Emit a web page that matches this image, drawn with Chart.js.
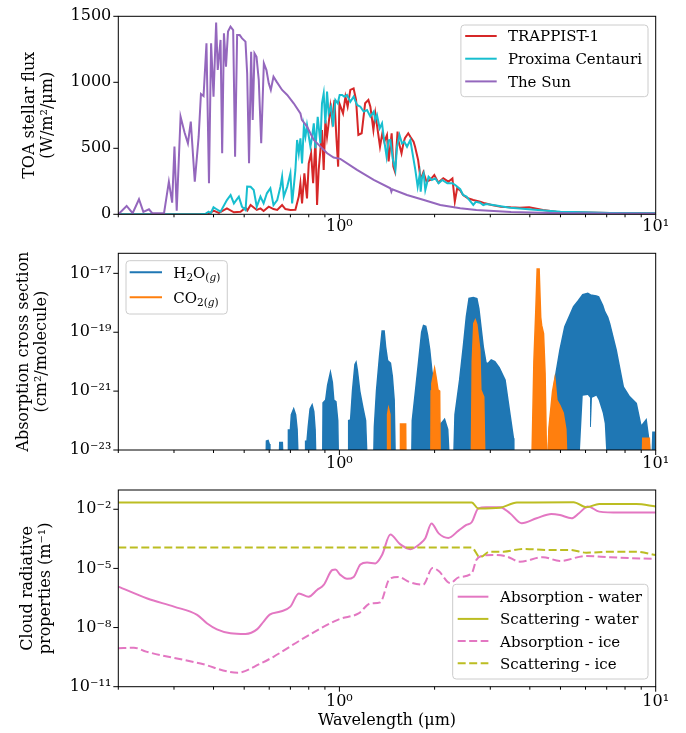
<!DOCTYPE html>
<html><head><meta charset="utf-8">
<script src="https://cdn.jsdelivr.net/npm/chart.js@4.4.1/dist/chart.umd.min.js"></script>
<style>
html,body{margin:0;padding:0;background:#fff;}
#wrap{position:relative;width:686px;height:733px;overflow:hidden;}
canvas{position:absolute;left:0;}
</style></head><body>
<div id="wrap">
<canvas id="c1" width="686" height="240" style="top:0px"></canvas>
<canvas id="c2" width="686" height="240" style="top:240px"></canvas>
<canvas id="c3" width="686" height="253" style="top:480px"></canvas>
</div>
<script>
// ---------------- DATA ----------------
const BELOW = 1e-24; // value below the plotted range (no absorption visible)

// Panel 1: top-of-atmosphere stellar flux (W/m2/um)
const trappistWl = [0.2,0.364,0.386,0.400,0.416,0.441,0.464,0.487,0.505,0.512,0.524,0.548,0.563,0.576,0.598,0.619,0.636,0.659,0.675,0.700,0.726,0.744,0.753,0.762,0.775,0.790,0.800,0.814,0.826,0.840,0.850,0.860,0.871,0.881,0.892,0.903,0.914,0.925,0.937,0.948,0.965,0.978,0.991,1.0,1.027,1.045,1.062,1.083,1.109,1.129,1.148,1.176,1.206,1.235,1.253,1.281,1.299,1.344,1.367,1.387,1.414,1.431,1.463,1.481,1.499,1.527,1.535,1.572,1.594,1.611,1.651,1.676,1.716,1.734,1.774,1.807,1.843,1.886,1.938,1.996,2.055,2.130,2.210,2.277,2.317,2.357,2.410,2.460,2.549,2.650,2.785,2.885,3.03,3.24,3.48,3.72,3.98,4.40,4.85,5.62,7.16,10];
const trappistFlux = [0,0,3,28,10,45,15,20,50,30,70,33,45,25,58,40,33,70,40,33,35,134,235,83,310,121,386,462,235,563,70,336,487,639,336,714,588,689,815,714,866,588,361,841,765,891,815,942,954,866,601,614,841,866,815,639,765,512,614,550,601,400,614,361,323,626,563,462,538,576,614,588,550,513,411,260,320,247,260,298,240,273,247,272,96,197,180,146,121,109,96,83,71,58,53,50,53,33,20,15,10,8];

const proximaWl = [0.2,0.315,0.364,0.378,0.386,0.392,0.400,0.408,0.421,0.441,0.453,0.464,0.481,0.492,0.505,0.511,0.524,0.536,0.548,0.563,0.576,0.590,0.605,0.619,0.636,0.651,0.659,0.667,0.684,0.700,0.709,0.726,0.735,0.744,0.753,0.762,0.772,0.781,0.790,0.810,0.820,0.830,0.840,0.854,0.871,0.881,0.892,0.903,0.914,0.925,0.941,0.955,0.971,0.988,1.002,1.020,1.037,1.057,1.083,1.109,1.137,1.165,1.193,1.223,1.253,1.284,1.299,1.315,1.341,1.364,1.380,1.410,1.430,1.449,1.477,1.503,1.521,1.549,1.577,1.604,1.636,1.676,1.710,1.738,1.768,1.794,1.807,1.825,1.847,1.869,1.914,1.960,2.010,2.060,2.113,2.194,2.277,2.324,2.410,2.460,2.523,2.592,2.650,2.700,2.785,2.850,2.912,3.06,3.31,3.467,3.64,3.96,4.44,5.0,5.93,7.17,10];
const proximaFlux = [0,0,3,5,20,8,53,40,20,108,146,83,134,58,32,210,209,184,58,134,83,159,197,70,108,209,285,134,209,310,83,336,563,462,575,386,664,588,676,512,588,689,500,739,538,841,916,689,929,765,815,664,866,841,904,904,891,904,853,891,828,815,778,790,740,778,714,752,651,689,588,437,560,563,411,336,512,601,538,550,512,563,437,336,209,300,172,280,310,184,285,260,272,235,260,235,235,222,190,146,134,100,71,95,88,70,78,71,58,50,45,38,28,20,15,10,8];

const sunWl = [0.2,0.2125,0.222,0.2325,0.240,0.250,0.256,0.279,0.289,0.296,0.301,0.306,0.3147,0.324,0.332,0.339,0.349,0.359,0.365,0.372,0.380,0.387,0.393,0.400,0.4077,0.4125,0.421,0.426,0.4315,0.438,0.4445,0.4527,0.4615,0.468,0.475,0.484,0.4925,0.5048,0.511,0.518,0.526,0.532,0.539,0.547,0.556,0.566,0.577,0.588,0.598,0.607,0.619,0.633,0.659,0.684,0.717,0.753,0.761,0.790,0.830,0.871,0.915,0.959,1.007,1.137,1.284,1.449,1.46,1.47,1.636,1.85,2.084,2.41,2.71,3.49,4.98,10];
const sunFlux = [0,63,8,114,18,38,8,8,247,88,513,28,740,619,538,702,247,588,912,896,1295,235,1295,891,1452,1093,1321,462,1371,1119,1384,1422,1396,437,1358,1358,1333,1308,1068,386,1232,715,1220,1194,1018,538,1144,1093,992,942,1043,1005,942,904,841,765,715,664,563,513,462,430,420,336,260,197,171,190,146,108,70,45,33,17,8,5];

// Panel 2: absorption cross sections (cm2/molecule), envelope of the line spectra
const h2oWl = [0.2,0.585,0.588,0.595,0.600,0.603,0.643,0.648,0.660,0.667,
  0.688,0.690,0.700,0.705,0.717,0.727,0.735,0.744,0.780,0.782,
  0.790,0.797,0.808,0.820,0.830,0.838,0.845,0.885,0.888,0.905,
  0.918,0.937,0.950,0.960,0.975,0.988,0.995,1.065,1.070,1.085,
  1.100,1.120,1.129,1.140,1.160,1.188,1.210,1.229,1.280,1.290,
  1.310,1.340,1.365,1.385,1.400,1.420,1.450,1.470,1.490,1.505,
  1.690,1.700,1.740,1.780,1.820,1.845,1.875,1.900,1.930,1.960,
  2.000,2.050,2.080,2.100,2.150,2.200,2.240,2.290,2.320,2.400,
  2.470,2.520,2.570,2.650,2.720,2.760,2.850,2.910,2.960,3.020,
  3.100,3.200,3.340,3.470,3.550,3.560,4.550,4.600,4.800,4.980,
  5.160,5.500,5.700,5.880,6.100,6.200,6.240,6.290,6.490,6.600,
  6.800,6.900,7.050,7.150,7.500,7.900,8.260,8.680,8.990,9.330,
  9.550,9.690,9.800,9.900,10];
const h2oMax = [BELOW,BELOW,2.0e-23,2.1e-23,1.6e-23,BELOW,BELOW,1.8e-23,1.8e-23,BELOW,
  BELOW,4.8e-23,4.8e-23,1.6e-22,2.5e-22,1.6e-22,5e-23,BELOW,BELOW,2e-23,
  2e-23,6e-23,2.5e-22,3.4e-22,2e-22,5e-23,BELOW,BELOW,4e-22,5e-22,
  1.6e-21,4.3e-21,2e-21,5e-22,4.4e-22,1e-22,BELOW,BELOW,1e-22,1.05e-22,
  1e-21,8e-21,9.5e-21,5e-21,1e-21,2.6e-22,1e-22,BELOW,BELOW,6e-23,
  1e-21,1.6e-20,1.1e-19,1.1e-19,3.2e-20,1.1e-20,9e-21,3.2e-21,5e-22,BELOW,
  BELOW,1e-22,1e-21,1e-20,1e-19,1.7e-19,1.6e-19,8e-20,2.5e-20,5e-21,
  1.26e-21,3.2e-22,6e-23,8e-23,1.1e-22,5e-23,BELOW,BELOW,1.6e-22,2.4e-21,
  4e-20,3.4e-19,1.4e-18,1.5e-18,1.4e-18,6.3e-19,3.2e-20,8.7e-21,9e-21,1.15e-20,
  1e-20,6.3e-21,2.4e-21,1.35e-22,2.5e-23,BELOW,BELOW,4e-23,2.4e-21,2.5e-20,
  1.55e-19,7.4e-19,1.2e-18,1.9e-18,2.1e-18,1.9e-18,1.8e-18,1.8e-18,1.7e-18,1.6e-18,
  8e-19,5e-19,3.2e-19,2e-19,2.5e-20,1.4e-21,6.5e-22,3.8e-22,6.3e-23,1.05e-22,
  1.6e-23,BELOW,4e-23,4e-23,BELOW];
// where the H2O lines never drop to the bottom of the axis (lower envelope)
const h2oArchWl  = [5.88, 6.1, 6.2, 6.24, 6.29, 6.49, 6.6, 6.8, 6.9];
const h2oArchMin = [7e-22, 7.4e-22, 6e-22, 6e-23, 6e-22, 7e-22, 5e-22, 1.8e-22, 8e-23];

const co2Wl = [0.2,1.415,1.42,1.43,1.445,1.45,1.555,1.56,1.62,1.625,
  1.945,1.95,1.96,2.00,2.02,2.05,2.075,2.085,2.61,2.63,
  2.66,2.69,2.72,2.78,2.80,2.86,2.89,4.05,4.12,4.18,
  4.22,4.28,4.33,4.36,4.42,4.47,4.53,4.60,4.72,4.80,
  4.87,4.98,5.10,5.20,5.26,9.05,9.10,9.55,9.65,10];
const co2Max = [BELOW,BELOW,1.6e-22,2.6e-22,1.6e-22,BELOW,BELOW,7.6e-23,7.6e-23,BELOW,
  BELOW,1e-21,1.8e-21,5.9e-21,3.2e-21,1.1e-21,1e-21,BELOW,BELOW,1e-20,
  2e-19,2.6e-19,1.8e-19,2.5e-20,1.1e-21,6.3e-22,BELOW,BELOW,1e-20,6.3e-19,
  1.4e-17,1.4e-17,3.2e-19,1.7e-19,9e-20,4e-21,BELOW,6e-23,1e-21,2.7e-21,
  5e-22,3.2e-22,1.8e-22,5e-23,BELOW,BELOW,2.5e-23,2.5e-23,BELOW,BELOW];

// Panel 3: cloud radiative properties (m^-1)
const absWaterWl = [0.2,0.247,0.30,0.355,0.382,0.41,0.4527,0.505,0.55,0.576,0.602,0.651,0.70,0.744,0.80,0.85,0.892,0.95,0.971,1.007,1.057,1.11,1.165,1.223,1.299,1.364,1.449,1.555,1.676,1.80,1.869,1.955,2.06,2.21,2.38,2.52,2.62,2.75,2.91,3.22,3.46,3.77,4.2,4.68,4.98,5.42,5.72,6.1,6.63,7.7,10];
const absWaterVal = [1.2e-6,3.0e-7,1.15e-7,4.4e-8,1.6e-8,8.1e-9,5.1e-9,4.7e-9,8.3e-9,2.0e-8,4.5e-8,6.5e-8,1.15e-7,5.4e-7,3.7e-7,8.1e-7,1.45e-6,8.3e-6,8.7e-6,4.7e-6,2.95e-6,3.7e-6,1.6e-5,2.0e-5,1.8e-5,4.8e-5,5.2e-4,1.7e-4,9.5e-5,1.8e-4,3.4e-4,1.9e-3,6e-4,3.5e-4,8.3e-4,1.6e-3,2.2e-3,1.1e-2,1.26e-2,1.26e-2,6.3e-3,1.95e-3,3.5e-3,5.8e-3,5.1e-3,3.5e-3,6.3e-3,1.4e-2,7.6e-3,6.8e-3,6.8e-3];
const scatWaterWl = [0.2,2.62,2.75,3.22,3.64,5.5,6.03,6.63,8.68,10];
const scatWaterVal = [2.2e-2,2.2e-2,1.1e-2,1.2e-2,2.2e-2,2.3e-2,1.26e-2,1.85e-2,1.85e-2,1.4e-2];
const absIceWl = [0.2,0.224,0.245,0.364,0.477,0.563,0.619,0.753,0.959,1.007,1.15,1.253,1.347,1.44,1.535,1.67,1.84,1.97,2.06,2.24,2.38,2.62,2.71,2.82,3.06,3.38,3.72,4.4,4.98,6.03,7.16,10];
const absIceVal = [8.9e-10,9.5e-10,6e-10,1.5e-10,5.1e-11,1.5e-10,3.3e-10,2.3e-9,2.0e-8,2.8e-8,5.2e-8,1.66e-7,1.9e-7,2.9e-6,3.7e-6,2.0e-6,1.5e-6,1.05e-5,7.4e-6,1.8e-6,3.5e-6,5.6e-6,2.7e-5,4.3e-5,4.8e-5,4.0e-5,2.2e-5,3.7e-5,2.4e-5,4.3e-5,3.7e-5,3.0e-5];
const scatIceWl = [0.2,2.62,2.78,2.99,3.3,3.82,4.5,5.35,6.03,7.2,8.66,10];
const scatIceVal = [1.15e-4,1.15e-4,3.7e-5,7.1e-5,7.1e-5,9.8e-5,8.7e-5,8.7e-5,6.3e-5,7.1e-5,7.1e-5,4.8e-5];

// Axes / ticks
const xMin = 0.2, xMax = 10;
const xMajorTicks = [1, 10];
const xMajorLabels = ['10\u2070', '10\u00b9'];
const xMinorTicks = [0.2,0.3,0.4,0.5,0.6,0.7,0.8,0.9,2,3,4,5,6,7,8,9];
const fluxTicks = [0, 500, 1000, 1500];
const fluxTickLabels = ['0', '500', '1000', '1500'];
const sigmaTicks = [1e-23, 1e-21, 1e-19, 1e-17];
const sigmaTickLabels = ['10\u207b\u00b2\u00b3', '10\u207b\u00b2\u00b9', '10\u207b\u00b9\u2079', '10\u207b\u00b9\u2077'];
const cloudTicks = [1e-11, 1e-8, 1e-5, 1e-2];
const cloudTickLabels = ['10\u207b\u00b9\u00b9', '10\u207b\u2078', '10\u207b\u2075', '10\u207b\u00b2'];

const starNames = ['TRAPPIST-1', 'Proxima Centauri', 'The Sun'];
const cloudNames = ['Absorption - water', 'Scattering - water', 'Absorption - ice', 'Scattering - ice'];

// ---------------- STYLE / HELPERS ----------------
const FONT = "'DejaVu Serif', 'Liberation Serif', serif";
const TICK_FONT = {family: FONT, size: 16, lineHeight: 1.2};
const W = 686, PLOT_LEFT = 118.3, PLOT_RIGHT = 655.7;
const C = {red:'#d62728', cyan:'#17becf', purple:'#9467bd', blue:'#1f77b4', orange:'#ff7f0e', pink:'#e377c2', olive:'#bcbd22'};
const xTickValues = [...xMinorTicks, ...xMajorTicks].sort((a, b) => a - b);

function pts(xs, ys) { const n = Math.min(xs.length, ys.length); const out = []; for (let i = 0; i < n; i++) out.push({x: xs[i], y: ys[i]}); return out; }

function xAxis(canvasH, plotBottom, pad, title) {
  return {
    type: 'logarithmic', position: 'bottom', min: xMin, max: xMax,
    grid: {display: false, drawTicks: false}, border: {display: false},
    afterBuildTicks: s => { s.ticks = xTickValues.map(v => ({value: v})); },
    afterFit: s => { s.height = canvasH - plotBottom; s.paddingLeft = 0; s.paddingRight = 0; },
    ticks: {autoSkip: false, maxRotation: 0, minRotation: 0, padding: pad, color: '#000', font: TICK_FONT,
      callback: v => { const i = xMajorTicks.indexOf(v); return i >= 0 ? xMajorLabels[i] : ''; }},
    title: title ? {display: true, text: title, color: '#000', font: {family: FONT, size: 16, lineHeight: 1.2}, padding: {top: 0, bottom: 2.5}} : {display: false}
  };
}
function yAxis(type, min, max, tickVals, tickLabels, titleLines, titlePad) {
  return {
    type, min, max, position: 'left',
    grid: {display: false, drawTicks: false}, border: {display: false},
    afterBuildTicks: s => { s.ticks = tickVals.map(v => ({value: v})); },
    afterFit: s => { s.width = PLOT_LEFT; s.paddingTop = 0; s.paddingBottom = 0; },
    ticks: {autoSkip: false, padding: 7, color: '#000', font: TICK_FONT,
      callback: v => { const i = tickVals.indexOf(v); return i >= 0 ? tickLabels[i] : ''; }},
    title: {display: true, text: titleLines, color: '#000', font: {family: FONT, size: 16, lineHeight: 1.125}, padding: {top: titlePad, bottom: 0}}
  };
}

// frame (all four spines) + matplotlib-like major/minor tick marks
const axesFrame = {
  id: 'axesFrame',
  afterDatasetsDraw(chart, args, o) {
    const {ctx, chartArea: a} = chart; const xs = chart.scales.x, ys = chart.scales.y;
    ctx.save(); ctx.strokeStyle = '#000'; ctx.lineWidth = 1; ctx.setLineDash([]);
    ctx.beginPath();
    for (const v of xMinorTicks) { const p = xs.getPixelForValue(v); ctx.moveTo(p, a.bottom); ctx.lineTo(p, a.bottom + 3); }
    for (const v of xMajorTicks) { const p = xs.getPixelForValue(v); ctx.moveTo(p, a.bottom); ctx.lineTo(p, a.bottom + 5); }
    for (const v of o.yTicks) { const p = ys.getPixelForValue(v); ctx.moveTo(a.left, p); ctx.lineTo(a.left - 5, p); }
    ctx.stroke();
    ctx.strokeRect(a.left, a.top, a.right - a.left, a.bottom - a.top);
    ctx.restore();
  }
};

// matplotlib-like legend box drawn inside the axes
function richWidth(ctx, segs, fs) {
  let w = 0;
  for (const s of segs) { ctx.font = (s.it ? 'italic ' : '') + (s.sub ? fs * 0.7 : fs) + 'px ' + FONT; w += ctx.measureText(s.t).width; }
  return w;
}
const boxLegend = {
  id: 'boxLegend',
  afterDraw(chart, args, o) {
    if (!o || !o.entries) return;
    const ctx = chart.ctx, a = chart.chartArea, fs = o.fontSize;
    ctx.save();
    const segsList = o.entries.map(e => Array.isArray(e.text) ? e.text : [{t: e.text}]);
    const tw = Math.max(...segsList.map(s => richWidth(ctx, s, fs)));
    const w = o.textX + tw + o.padRight, h = o.height;
    const x0 = o.hAnchor === 'left' ? a.left + o.inset : a.right - o.inset - w;
    const y0 = o.vAnchor === 'bottom' ? a.bottom - o.insetY - h : a.top + o.insetY;
    ctx.beginPath(); ctx.roundRect(x0, y0, w, h, 3.5);
    ctx.fillStyle = 'rgba(255,255,255,0.8)'; ctx.fill();
    ctx.strokeStyle = '#cccccc'; ctx.lineWidth = 1; ctx.stroke();
    o.entries.forEach((e, i) => {
      const y = y0 + o.firstRow + i * o.rowGap;
      ctx.beginPath(); ctx.strokeStyle = e.color; ctx.lineWidth = 2; ctx.setLineDash(e.dash || []);
      ctx.moveTo(x0 + o.handleX, y); ctx.lineTo(x0 + o.handleX + o.handleLen, y); ctx.stroke();
      ctx.setLineDash([]);
      let x = x0 + o.textX; const base = y + fs * 0.36;
      ctx.fillStyle = '#000'; ctx.textBaseline = 'alphabetic'; ctx.textAlign = 'left';
      for (const s of segsList[i]) {
        const sz = s.sub ? fs * 0.7 : fs;
        ctx.font = (s.it ? 'italic ' : '') + sz + 'px ' + FONT;
        ctx.fillText(s.t, x, s.sub ? base + fs * 0.22 : base);
        x += ctx.measureText(s.t).width;
      }
    });
    ctx.restore();
  }
};
Chart.register(axesFrame, boxLegend);

const common = {responsive: false, maintainAspectRatio: false, animation: false, events: []};
const lineDs = {pointRadius: 0, borderWidth: 2, fill: false, tension: 0};

// ---------------- PANEL 1 ----------------
const ds1 = [
  {label: starNames[0], data: pts(trappistWl, trappistFlux), borderColor: C.red, order: 2, ...lineDs},
  {label: starNames[1], data: pts(proximaWl, proximaFlux), borderColor: C.cyan, order: 1, ...lineDs},
  {label: starNames[2], data: pts(sunWl, sunFlux), borderColor: C.purple, order: 0, ...lineDs}
];
new Chart(document.getElementById('c1'), {
  type: 'line', data: {datasets: ds1},
  options: {...common, layout: {padding: {left: 0, right: W - PLOT_RIGHT, top: 16.3, bottom: 0}},
    scales: {x: xAxis(240, 214.3, 3, null), y: yAxis('linear', 0, 1500, fluxTicks, fluxTickLabels, ['TOA stellar flux', '(W/m\u00b2/\u03bcm)'], 20.5)},
    plugins: {legend: {display: false}, tooltip: {enabled: false}, axesFrame: {yTicks: fluxTicks},
      boxLegend: {entries: ds1.map(d => ({text: d.label, color: d.borderColor})), fontSize: 15, hAnchor: 'right', vAnchor: 'top', inset: 7.7, insetY: 8.7, height: 71.7, firstRow: 11, rowGap: 22.7, handleX: 4.3, handleLen: 31.5, textX: 47, padRight: 6}}}
});

// ---------------- PANEL 2 ----------------
const h2oMinFull = h2oWl.map(w => { const i = h2oArchWl.indexOf(w); return i >= 0 ? h2oArchMin[i] : BELOW; });
const ds2 = [
  {label: 'H2O min', data: pts(h2oWl, h2oMinFull), borderColor: 'rgba(0,0,0,0)', borderWidth: 1, pointRadius: 0, fill: false, order: 3},
  {label: 'H2O', data: pts(h2oWl, h2oMax), borderColor: C.blue, backgroundColor: C.blue, borderWidth: 1.5, pointRadius: 0, fill: '-1', order: 2},
  {label: 'CO2', data: pts(co2Wl, co2Max), borderColor: C.orange, backgroundColor: C.orange, borderWidth: 1.5, pointRadius: 0, fill: 'start', order: 0}
];
new Chart(document.getElementById('c2'), {
  type: 'line', data: {datasets: ds2},
  options: {...common, layout: {padding: {left: 0, right: W - PLOT_RIGHT, top: 13.3, bottom: 0}},
    scales: {x: xAxis(240, 210, 4.5, null), y: yAxis('logarithmic', 1e-23, 4.8e-17, sigmaTicks, sigmaTickLabels, ['Absorption cross section', '(cm\u00b2/molecule)'], 15)},
    plugins: {legend: {display: false}, tooltip: {enabled: false}, axesFrame: {yTicks: sigmaTicks},
      boxLegend: {entries: [
        {text: [{t: 'H'}, {t: '2', sub: true}, {t: 'O'}, {t: '(', sub: true}, {t: 'g', sub: true, it: true}, {t: ')', sub: true}], color: C.blue},
        {text: [{t: 'CO'}, {t: '2', sub: true}, {t: '(', sub: true}, {t: 'g', sub: true, it: true}, {t: ')', sub: true}], color: C.orange}
      ], fontSize: 15, hAnchor: 'left', vAnchor: 'top', inset: 7.7, insetY: 7.4, height: 53.3, firstRow: 11.6, rowGap: 25, handleX: 3.7, handleLen: 32.3, textX: 47.3, padRight: 7}}}
});

// ---------------- PANEL 3 ----------------
const smooth = {pointRadius: 0, borderWidth: 2, fill: false, cubicInterpolationMode: 'monotone'};
const ds3 = [
  {label: cloudNames[0], data: pts(absWaterWl, absWaterVal), borderColor: C.pink, order: 3, ...smooth},
  {label: cloudNames[1], data: pts(scatWaterWl, scatWaterVal), borderColor: C.olive, order: 2, ...smooth},
  {label: cloudNames[2], data: pts(absIceWl, absIceVal), borderColor: C.pink, borderDash: [8, 3.5], order: 1, ...smooth},
  {label: cloudNames[3], data: pts(scatIceWl, scatIceVal), borderColor: C.olive, borderDash: [8, 3.5], order: 0, ...smooth}
];
new Chart(document.getElementById('c3'), {
  type: 'line', data: {datasets: ds3},
  options: {...common, layout: {padding: {left: 0, right: W - PLOT_RIGHT, top: 10, bottom: 0}},
    scales: {x: xAxis(253, 206.7, 6, 'Wavelength (\u03bcm)'), y: yAxis('logarithmic', 1e-11, 0.095, cloudTicks, cloudTickLabels, ['Cloud radiative', 'properties (m\u207b\u00b9)'], 18.5)},
    plugins: {legend: {display: false}, tooltip: {enabled: false}, axesFrame: {yTicks: cloudTicks},
      boxLegend: {entries: ds3.map(d => ({text: d.label, color: d.borderColor, dash: d.borderDash})), fontSize: 15, hAnchor: 'right', vAnchor: 'bottom', inset: 7.7, insetY: 7.7, height: 94.7, firstRow: 12.4, rowGap: 22.2, handleX: 5, handleLen: 30.7, textX: 47.4, padRight: 6}}}
});
</script>
</body></html>
